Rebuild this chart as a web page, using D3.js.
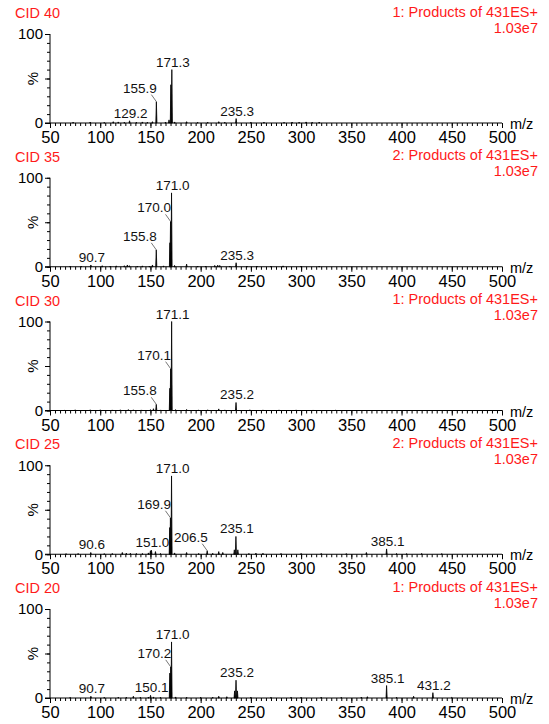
<!DOCTYPE html>
<html>
<head>
<meta charset="utf-8">
<script src="https://cdn.jsdelivr.net/npm/d3@7"></script>
<style>
  html, body { margin: 0; padding: 0; background: #fff; }
  svg { display: block; font-family: "Liberation Sans", Arial, Helvetica, sans-serif; }
</style>
</head>
<body>
<svg id="chart" width="549" height="724"></svg>
<script>
// ---------------- DATA ----------------
const panelTitles = ["CID 40", "CID 35", "CID 30", "CID 25", "CID 20"];
const functionLabels = [
  "1: Products of 431ES+", "2: Products of 431ES+", "1: Products of 431ES+",
  "2: Products of 431ES+", "1: Products of 431ES+"
];
const intensityLabels = ["1.03e7", "1.03e7", "1.03e7", "1.03e7", "1.03e7"];
const xTickLabels = [50, 100, 150, 200, 250, 300, 350, 400, 450, 500];
const yTickLabels = [0, 100];

// CID 40
const cid40Mz  = [73, 90, 104, 113, 118, 124, 129.2, 136, 142, 147, 152, 155.9, 165, 168.5, 170.3, 171.3, 174, 186, 197, 207, 218, 224, 235.3, 250, 263, 283, 291, 298, 305, 311, 318];
const cid40Int = [0.8, 1.0, 0.6, 1.5, 1.2, 0.8, 2.5, 0.8, 1.2, 0.8, 1.5, 24, 1.0, 3.5, 43, 60, 1.2, 1.5, 0.7, 0.8, 1.5, 0.8, 5, 0.8, 0.8, 0.7, 1.0, 0.8, 1.2, 0.8, 1.0];
const cid40Labels = ["129.2", "155.9", "171.3", "235.3"];
const cid40Leaders = ["155.9"];

// CID 35
const cid35Mz  = [70, 81, 90.7, 102, 110, 116, 124, 127, 129, 137, 142, 149, 152, 155.8, 163, 169.4, 170.0, 171.0, 174, 186, 197, 205, 214, 217, 219, 229, 235.3, 246, 256, 270, 282, 300, 318];
const cid35Int = [0.6, 0.8, 2, 1.2, 0.7, 1.0, 1.2, 2, 1.2, 0.8, 1.0, 0.8, 2, 19, 1.0, 27, 51, 83, 1.5, 3, 0.8, 0.8, 1.5, 1.8, 1.5, 0.8, 4.5, 0.8, 0.8, 0.7, 1.0, 0.8, 0.7];
const cid35Labels = ["90.7", "155.8", "170.0", "171.0", "235.3"];
const cid35Leaders = ["155.8", "170.0"];

// CID 30
const cid30Mz  = [64, 75, 90, 100, 112, 120, 128, 133, 141, 150, 153, 155.8, 160, 169.3, 170.1, 171.1, 175, 186, 198, 207, 218, 224, 235.2, 249, 262, 278, 295, 312, 334];
const cid30Int = [0.6, 0.8, 0.8, 0.8, 0.7, 0.8, 1.0, 0.8, 0.7, 1.0, 2, 7, 0.7, 25, 47, 100, 1.0, 1.2, 0.6, 0.8, 1.8, 0.7, 9, 0.8, 0.7, 0.7, 0.7, 0.6, 0.6];
const cid30Labels = ["155.8", "170.1", "171.1", "235.2"];
const cid30Leaders = ["155.8", "170.1"];

// CID 25
const cid25Mz  = [66, 78, 90.6, 104, 112, 122, 126, 130, 136, 142, 148, 150, 151.0, 155, 160, 169.2, 169.9, 171.0, 174, 186, 198, 206.5, 212, 218, 222, 233.5, 235.1, 237, 248, 255, 262, 280, 300, 320, 345, 365, 385.1, 395, 405, 420, 440];
const cid25Int = [0.6, 0.8, 2, 0.7, 0.8, 2, 1.2, 1.0, 0.8, 0.8, 1.5, 4, 4.5, 3, 0.8, 30, 41, 88, 1.5, 2, 0.8, 4, 1.0, 3, 2, 5, 20, 5, 0.8, 1.2, 1.0, 0.8, 0.8, 0.8, 0.7, 2, 6, 0.8, 0.7, 0.8, 0.7];
const cid25Labels = ["90.6", "151.0", "169.9", "171.0", "206.5", "235.1", "385.1"];
const cid25Leaders = ["169.9", "206.5"];

// CID 20
const cid20Mz  = [70, 90.7, 104, 118, 126, 133, 140, 148, 150.1, 153, 160, 169.3, 170.2, 171.0, 175, 186, 200, 212, 218, 226, 233.8, 235.2, 236.6, 250, 270, 290, 300, 320, 340, 360, 366, 385.1, 395, 412, 431.2, 450];
const cid20Int = [0.6, 2, 0.7, 0.8, 0.8, 2, 0.8, 1, 3, 1.2, 0.8, 28, 35, 63, 1.2, 0.8, 0.8, 0.8, 2, 1.5, 8, 20, 8, 0.8, 0.7, 0.8, 0.7, 0.8, 0.7, 1, 1.5, 14, 0.8, 2, 6, 0.6];
const cid20Labels = ["90.7", "150.1", "170.2", "171.0", "235.2", "385.1", "431.2"];
const cid20Leaders = ["170.2"];

const panels = [
  { mz: cid40Mz, inten: cid40Int, labels: cid40Labels, leaders: cid40Leaders },
  { mz: cid35Mz, inten: cid35Int, labels: cid35Labels, leaders: cid35Leaders },
  { mz: cid30Mz, inten: cid30Int, labels: cid30Labels, leaders: cid30Leaders },
  { mz: cid25Mz, inten: cid25Int, labels: cid25Labels, leaders: cid25Leaders },
  { mz: cid20Mz, inten: cid20Int, labels: cid20Labels, leaders: cid20Leaders }
];

// ---------------- LAYOUT ----------------
const svg = d3.select("#chart");
const red = "#ff1a1a";
const x = d3.scaleLinear().domain([50, 500]).range([50, 502]);
const panelStep = 143.75, firstBase = 123, plotH = 89, halfW = 0.55;

panels.forEach((p, i) => {
  const base = firstBase + i * panelStep;
  const y = d3.scaleLinear().domain([0, 100]).range([base, base - plotH]);
  const g = svg.append("g");

  // titles
  g.append("text").attr("x", 15).attr("y", base - 105).attr("fill", red)
    .attr("font-size", 14.5).text(panelTitles[i]);
  g.append("text").attr("x", 538).attr("y", base - 106.5).attr("fill", red)
    .attr("text-anchor", "end").attr("font-size", 14.5).text(functionLabels[i]);
  g.append("text").attr("x", 538).attr("y", base - 90.5).attr("fill", red)
    .attr("text-anchor", "end").attr("font-size", 14.5).text(intensityLabels[i]);

  // spectrum peaks
  const peaks = p.mz.map((m, k) => ({ mz: m, h: p.inten[k] }));
  g.selectAll("path.peak").data(peaks).join("path")
    .attr("class", "peak")
    .attr("d", d => `M${x(d.mz - halfW)},${y(0)}L${x(d.mz)},${y(d.h)}L${x(d.mz + halfW)},${y(0)}Z`)
    .attr("fill", "#000").attr("stroke", "#000").attr("stroke-width", 0.8)
    .attr("stroke-linejoin", "miter");

  // x axis
  const xMinor = g.append("g").attr("transform", `translate(0,${base})`)
    .call(d3.axisBottom(x).tickValues(d3.range(50, 501, 5)).tickSize(3).tickSizeOuter(0).tickFormat(""));
  xMinor.select(".domain").remove();
  const xMajor = g.append("g").attr("transform", `translate(0,${base})`)
    .call(d3.axisBottom(x).tickValues(xTickLabels).tickSize(5).tickSizeOuter(0).tickPadding(3.5));
  xMajor.select(".domain").remove();
  xMajor.selectAll("text").attr("font-size", 16.5).attr("font-family", "Liberation Sans, Arial, sans-serif").attr("fill", "#000");
  g.append("line").attr("x1", 45).attr("x2", x(500)).attr("y1", base).attr("y2", base)
    .attr("stroke", "#000").attr("stroke-width", 1.2);

  // y axis
  const yMinor = g.append("g").attr("transform", `translate(${x(50)},0)`)
    .call(d3.axisLeft(y).tickValues(d3.range(0, 101, 10)).tickSize(3).tickSizeOuter(0).tickFormat(""));
  yMinor.select(".domain").remove();
  const yMid = g.append("g").attr("transform", `translate(${x(50)},0)`)
    .call(d3.axisLeft(y).tickValues([50]).tickSize(5).tickSizeOuter(0).tickFormat(""));
  yMid.select(".domain").remove();
  const yMajor = g.append("g").attr("transform", `translate(${x(50)},0)`)
    .call(d3.axisLeft(y).tickValues(yTickLabels).tickSize(5).tickSizeOuter(0).tickPadding(2));
  yMajor.select(".domain").remove();
  yMajor.selectAll("text").attr("font-size", 15).attr("font-family", "Liberation Sans, Arial, sans-serif").attr("fill", "#000");
  g.append("line").attr("x1", x(50)).attr("x2", x(50)).attr("y1", y(0)).attr("y2", y(100))
    .attr("stroke", "#000").attr("stroke-width", 1);

  // % label
  g.append("text").attr("transform", `translate(38,${y(50)}) rotate(-90)`)
    .attr("text-anchor", "middle").attr("font-size", 15).text("%");
  // m/z
  g.append("text").attr("x", 510).attr("y", base + 6).attr("font-size", 14.5).text("m/z");

  // peak labels
  p.labels.forEach(lbl => {
    const m = +lbl;
    const k = p.mz.findIndex(v => Math.abs(v - m) < 1e-6);
    const h = p.inten[k];
    const px = x(m), py = y(h);
    if (p.leaders.includes(lbl)) {
      g.append("line").attr("x1", px - 5).attr("y1", py - 7).attr("x2", px).attr("y2", py)
        .attr("stroke", "#777").attr("stroke-width", 1);
      g.append("text").attr("x", px + 0.5).attr("y", py - 9).attr("text-anchor", "end")
        .attr("font-size", 13.5).attr("fill", "#111").text(lbl);
    } else {
      g.append("text").attr("x", px + 1).attr("y", py - 3).attr("text-anchor", "middle")
        .attr("font-size", 13.5).attr("fill", "#111").text(lbl);
    }
  });
});
</script>
</body>
</html>
